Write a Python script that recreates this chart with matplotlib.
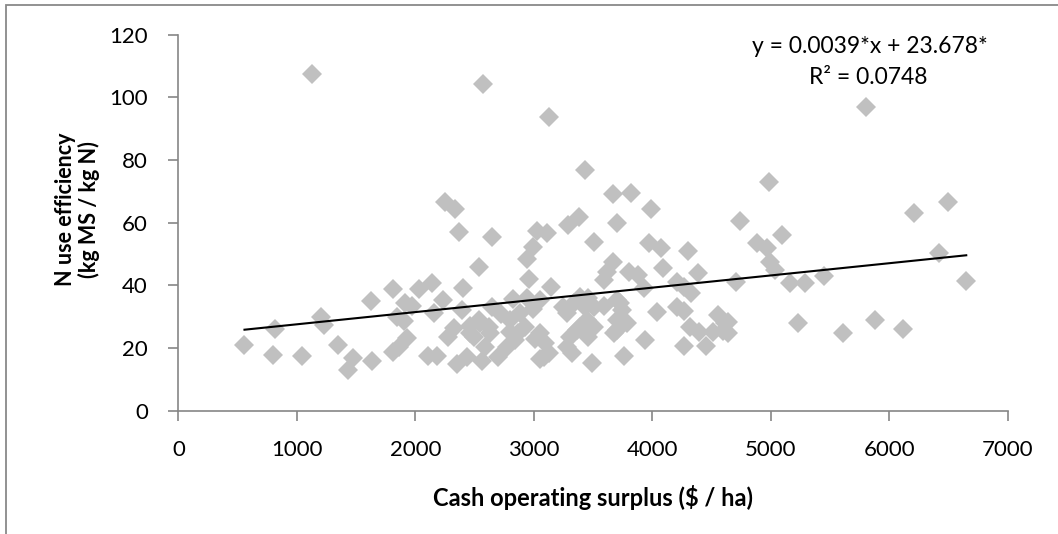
import numpy as np
import matplotlib
matplotlib.use("Agg")
import matplotlib.pyplot as plt
from matplotlib.patches import Rectangle

# Cash operating surplus ($/ha) vs N use efficiency (kg MS / kg N)
cos_x = [557, 796, 816, 1041, 1126, 1203, 1228, 1350, 1430, 1472,
         1626, 1636, 1809, 1807, 1857, 1927, 1913, 1969, 1842, 1899,
         2026, 2138, 2104, 2181, 2153, 2236, 2251, 2336, 2364, 2405,
         2391, 2321, 2278, 2350, 2433, 2560, 2462, 2546, 2631, 2645,
         2532, 2645, 2568, 2700, 2772, 2827, 2940, 2954, 2990, 3024,
         3109, 2940, 2996, 3053, 3095, 3081, 3141, 3291, 3376, 3126,
         3432, 3503, 3666, 3821, 3985, 3700, 3489, 3587, 3665, 3615,
         3587, 3700, 3742, 3700, 3672, 3756, 3798, 3875, 3925, 3967,
         4073, 4086, 4300, 4037, 3939, 4205, 4262, 4382, 4329, 4205,
         4262, 4262, 4318, 4389, 4452, 4557, 4613, 4599, 4735, 4881,
         4966, 5092, 4994, 5036, 4707, 5157, 5289, 5449, 4641, 4641,
         4514, 5228, 5604, 5874, 6113, 6209, 6494, 6422, 6648, 5803,
         4980, 2799, 2883, 2799, 2841, 2926, 2869, 3053, 3010, 3123,
         3053, 3249, 3277, 3334, 3390, 3432, 3277, 3319, 3305, 3362,
         3453, 3503, 3728, 3446, 3390, 3503, 3460, 3700, 3784, 2617,
         2490, 2532, 2588, 2718, 2462]
nue_y = [21.0, 17.8, 26.0, 17.5, 107.4, 29.8, 27.5, 21.0, 13.0, 16.7,
         35.0, 15.8, 38.7, 18.8, 20.4, 23.1, 34.5, 33.4, 30.0, 28.6,
         38.7, 40.9, 17.3, 17.5, 31.1, 35.3, 66.5, 64.3, 57.0, 39.2,
         32.1, 26.3, 23.6, 14.8, 17.2, 15.9, 24.7, 27.9, 24.7, 33.2,
         46.0, 55.3, 104.3, 17.2, 20.4, 35.8, 48.3, 42.0, 52.3, 57.4,
         56.6, 35.9, 32.6, 24.7, 21.5, 17.2, 39.6, 59.3, 61.9, 93.8,
         76.8, 53.9, 69.2, 69.4, 64.3, 59.8, 15.2, 41.7, 47.6, 44.4,
         33.5, 35.3, 32.1, 29.0, 24.7, 17.6, 44.4, 43.3, 39.3, 53.4,
         51.8, 45.5, 50.9, 31.4, 22.6, 41.2, 39.6, 43.9, 37.5, 33.2,
         31.8, 20.7, 26.8, 25.0, 20.7, 30.7, 27.9, 25.5, 60.5, 53.4,
         51.8, 56.1, 47.6, 44.9, 41.2, 40.9, 40.9, 43.0, 28.4, 24.7,
         25.2, 27.9, 24.7, 28.9, 26.0, 63.1, 66.7, 50.2, 41.5, 96.8,
         72.9, 29.0, 31.1, 25.2, 22.6, 26.8, 24.7, 35.3, 23.0, 18.3,
         16.5, 33.2, 31.1, 34.3, 36.4, 33.2, 20.4, 18.3, 23.6, 25.8,
         36.0, 33.2, 34.3, 29.0, 26.8, 26.8, 23.6, 25.8, 27.9, 26.8,
         23.6, 29.0, 20.4, 31.0, 27.0]

# trend line as printed on the chart
slope = 0.0039
intercept = 23.678
r_squared = 0.0748

x_ticks = [0, 1000, 2000, 3000, 4000, 5000, 6000, 7000]
y_ticks = [0, 20, 40, 60, 80, 100, 120]

plt.rcParams["font.family"] = ["Lato", "DejaVu Sans"]

fig = plt.figure(figsize=(10.58, 5.34), dpi=100)
ax = fig.add_axes([0.1687, 0.2309, 0.784, 0.7041])

ax.plot(cos_x, nue_y, linestyle="none", marker="D", markersize=10,
        color="#c0c0c0", markeredgewidth=0, zorder=2)

xs = np.array([min(cos_x), max(cos_x)])
ax.plot(xs, slope * xs + intercept, color="black", lw=1.5, zorder=3)

ax.set_xlim(0, 7000)
ax.set_ylim(0, 120)
ax.set_xticks(x_ticks)
ax.set_yticks(y_ticks)
ax.tick_params(direction="out", length=7, width=1.2, color="#868686",
               labelsize=16)
ax.tick_params(axis="y", pad=15)
ax.tick_params(axis="x", pad=14)
for s in ["top", "right"]:
    ax.spines[s].set_visible(False)
for s in ["left", "bottom"]:
    ax.spines[s].set_color("#868686")
    ax.spines[s].set_linewidth(1.2)

ax.set_xlabel("Cash operating surplus ($ / ha)", fontsize=17,
              fontweight="bold", labelpad=18)
ax.set_ylabel("N use efficiency\n(kg MS / kg N)", fontsize=15.5,
              fontweight="bold", linespacing=1.1)
ax.yaxis.set_label_coords(-0.095, 0.535)

ax.text(0.833, 0.969, f"y = {slope}*x + {intercept}*", transform=ax.transAxes,
        ha="center", va="center", fontsize=16.5)
ax.text(0.832, 0.885, f"R² = {r_squared}", transform=ax.transAxes,
        ha="center", va="center", fontsize=16.5)

# outer chart-area frame (only left and top edges show in the crop)
fig.patches.append(Rectangle((6 / 1058, -0.1), 1.2, 1 - 5 / 534 + 0.1,
                             transform=fig.transFigure, fill=False,
                             edgecolor="#898989", lw=1.3))

fig.savefig("out.png", dpi=100)
